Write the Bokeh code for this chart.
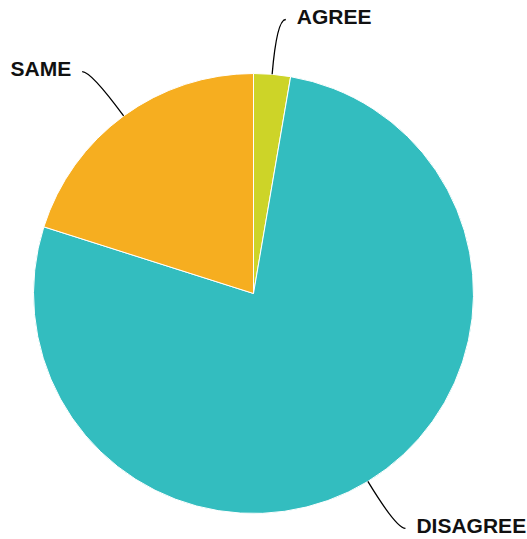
import math
from bokeh.plotting import figure
from bokeh.models import Range1d, ColumnDataSource
from bokeh.core.properties import value
from bokeh.embed import file_html
from bokeh.resources import INLINE

# Data
categories = ["AGREE", "DISAGREE", "SAME"]
values = [2.7, 77.2, 20.1]
colors = ["#CDD428", "#33BDBF", "#F6AE20"]

W, H = 527, 539
p = figure(width=W, height=H, output_backend="svg", toolbar_location=None,
           x_range=Range1d(0, W), y_range=Range1d(0, H), min_border=0)
p.axis.visible = False
p.grid.visible = False
p.outline_line_color = None
p.background_fill_color = "white"
p.border_fill_color = "white"

cx, cy, r = 253, H - 293, 220
total = sum(values)
starts, ends, mids = [], [], []
cum = 0.0
for v in values:
    a0 = math.pi / 2 - 2 * math.pi * cum / total
    cum += v
    a1 = math.pi / 2 - 2 * math.pi * cum / total
    starts.append(a1)
    ends.append(a0)
    mids.append((a0 + a1) / 2)

src = ColumnDataSource(dict(start=starts, end=ends, color=colors, cat=categories))
p.wedge(x=cx, y=cy, radius=r, start_angle="start", end_angle="end",
        fill_color="color", line_color="white", line_width=1, source=src)

# Leader lines and labels
x0s, y0s, cxs, cys, x1s, y1s = [], [], [], [], [], []
tx, ty, talign = [], [], []
r_out = 275
ext = 9
gap = 11
for m in mids:
    sx, sy = cx + r * math.cos(m), cy + r * math.sin(m)
    kx, ky = cx + r_out * math.cos(m), cy + r_out * math.sin(m)
    d = 1 if math.cos(m) >= 0 else -1
    ex, ey = kx + d * ext, ky
    x0s.append(sx); y0s.append(sy); cxs.append(kx); cys.append(ky)
    x1s.append(ex); y1s.append(ey)
    tx.append(ex + d * gap)
    ty.append(ey + 3)
    talign.append("left" if d > 0 else "right")

p.quadratic(x0=x0s, y0=y0s, x1=x1s, y1=y1s, cx=cxs, cy=cys,
            line_color="black", line_width=1.3)
p.text(x=tx, y=ty, text=categories, text_align=talign, text_baseline="middle",
       text_font=value("Liberation Sans"), text_font_style="bold",
       text_font_size="21px", text_color="#111111")

open("out.html", "w").write(file_html(p, INLINE))
